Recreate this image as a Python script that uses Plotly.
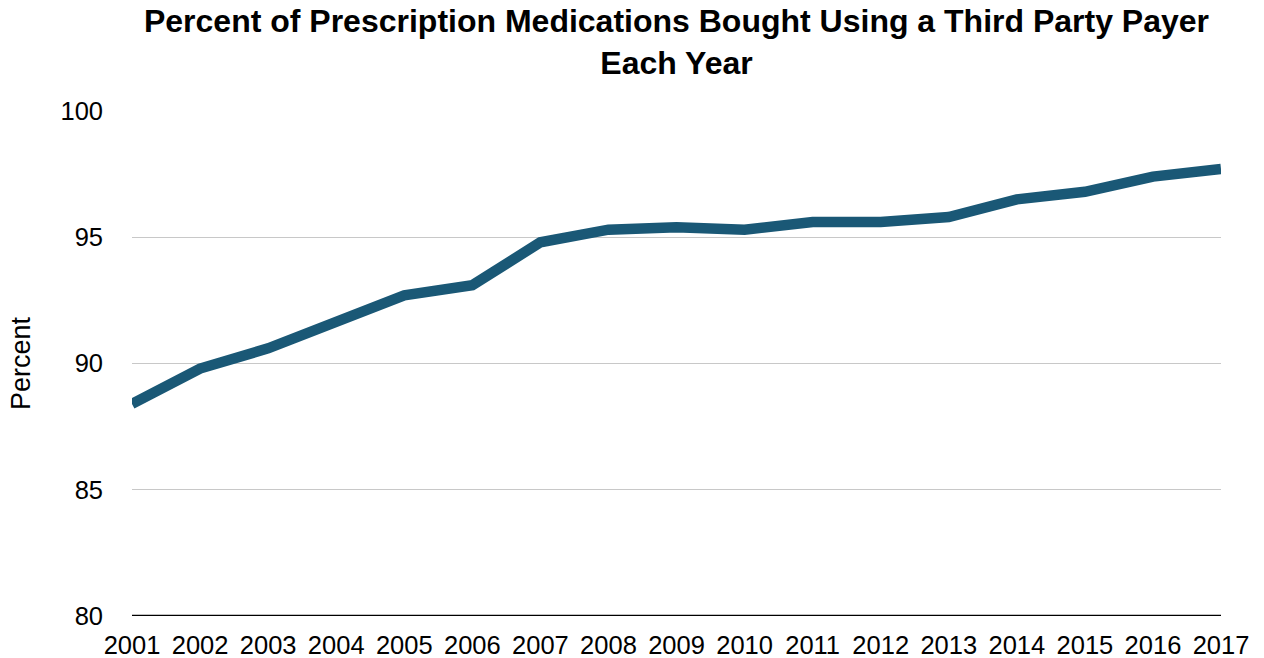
import plotly.graph_objects as go

years = list(range(2001, 2018))
percent = [88.4, 89.8, 90.6, 91.7, 92.7, 93.1, 94.8, 95.3, 95.4, 95.3,
           95.6, 95.6, 95.8, 96.5, 96.8, 97.4, 97.7]
y_ticks = [80, 85, 90, 95, 100]

font_family = "Liberation Sans, Arial, Helvetica, sans-serif"

fig = go.Figure()
fig.add_trace(go.Scatter(
    x=years, y=percent, mode="lines",
    line=dict(color="#1a5876", width=10.5),
    hoverinfo="x+y",
))

fig.update_layout(
    width=1264, height=658,
    margin=dict(l=132, r=43, t=111, b=42),
    paper_bgcolor="white", plot_bgcolor="white",
    showlegend=False,
    font=dict(family=font_family, color="black", size=25),
    title=dict(
        text="<b>Percent of Prescription Medications Bought Using a Third Party Payer<br>Each Year</b>",
        x=0.5, xanchor="center", xref="paper",
        yref="container", y=1 - 32 / 658, yanchor="middle",
        font=dict(family=font_family, size=32, color="black"),
    ),
    xaxis=dict(
        range=[2001, 2017], tickmode="array", tickvals=years,
        ticktext=[str(y) for y in years],
        showgrid=False, zeroline=False, automargin=False,
        showline=False, ticks="", ticklabelstandoff=11,
        tickfont=dict(size=25.5),
    ),
    yaxis=dict(
        range=[80, 100], tickmode="array", tickvals=y_ticks,
        showgrid=True, gridcolor="#c8c8c8", gridwidth=1,
        zeroline=False, showline=False, ticks="", automargin=False,
        ticklabelstandoff=28,
        tickfont=dict(size=25.5),
        title=dict(text="Percent", font=dict(size=27), standoff=22),
    ),
)

# solid black baseline along the bottom of the plot
fig.add_shape(type="line", xref="paper", yref="y", x0=0, x1=1, y0=80, y1=80,
              line=dict(color="black", width=2.5), layer="above")

fig.write_html("out.html")
